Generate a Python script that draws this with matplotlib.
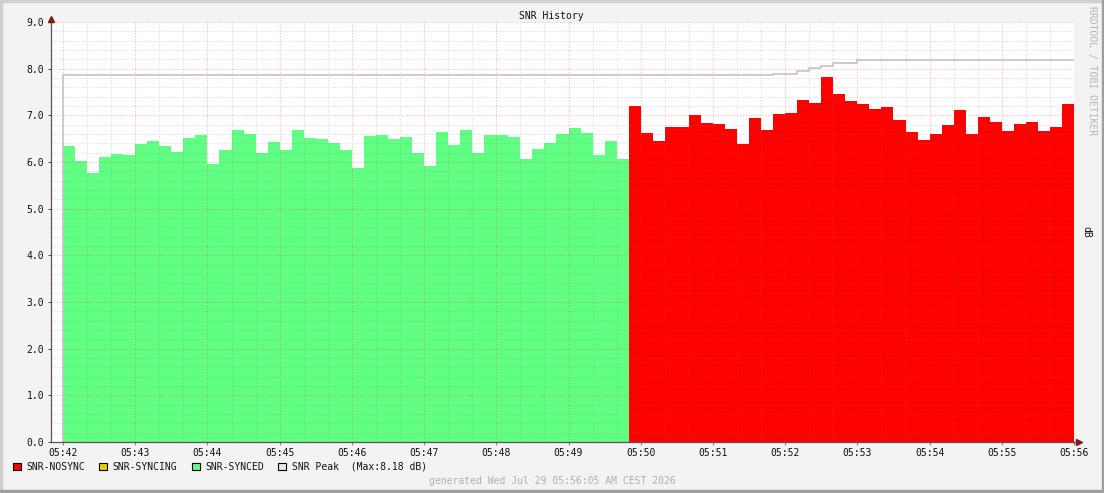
import numpy as np
import matplotlib
matplotlib.use('Agg')
from matplotlib import pyplot as plt
from matplotlib.patches import Rectangle

# SNR samples, one every 10 s starting 05:42:00
snr_synced = [6.35, 6.03, 5.76, 6.11, 6.18, 6.16, 6.39, 6.46, 6.35, 6.22,
              6.52, 6.58, 5.96, 6.26, 6.69, 6.61, 6.20, 6.43, 6.25, 6.69,
              6.52, 6.50, 6.41, 6.25, 5.88, 6.56, 6.58, 6.50, 6.54, 6.20,
              5.92, 6.65, 6.37, 6.69, 6.20, 6.58, 6.58, 6.54, 6.07, 6.28,
              6.41, 6.61, 6.73, 6.63, 6.16, 6.46, 6.07]
snr_nosync = [7.21, 6.62, 6.44, 6.74, 6.74, 7.00, 6.83, 6.81, 6.70, 6.38,
              6.94, 6.68, 7.02, 7.04, 7.32, 7.26, 7.83, 7.45, 7.30, 7.24,
              7.13, 7.17, 6.89, 6.64, 6.47, 6.59, 6.79, 7.11, 6.59, 6.96,
              6.85, 6.66, 6.81, 6.85, 6.66, 6.74, 7.24]
snr_peak = [7.86] * 59 + [7.89, 7.89, 7.95, 8.01, 8.05, 8.13, 8.13] + [8.18] * 18
tick_labels = ['05:42', '05:43', '05:44', '05:45', '05:46', '05:47', '05:48', '05:49',
               '05:50', '05:51', '05:52', '05:53', '05:54', '05:55', '05:56']

step = 10
t_synced = np.arange(len(snr_synced)) * step
t_nosync = (np.arange(len(snr_nosync)) + len(snr_synced)) * step
t_all = np.arange(len(snr_peak)) * step

W, H = 1104, 493
bg = '#f3f3f3'
mono = 'DejaVu Sans Mono'
fs = 7

fig = plt.figure(figsize=(W / 100, H / 100), dpi=100, facecolor=bg)

# bevelled frame
fig.patches.append(Rectangle((0, 1 - 2 / H), 1, 2 / H, transform=fig.transFigure, color='#cfcfcf', zorder=0))
fig.patches.append(Rectangle((0, 0), 2 / W, 1, transform=fig.transFigure, color='#cfcfcf', zorder=0))
fig.patches.append(Rectangle((0, 0), 1, 3 / H, transform=fig.transFigure, color='#9e9e9e', zorder=0))
fig.patches.append(Rectangle((1 - 2 / W, 0), 2 / W, 1, transform=fig.transFigure, color='#9e9e9e', zorder=0))

ax = fig.add_axes([51 / W, 51 / H, 1023 / W, 420 / H])
ax.set_facecolor('white')

ax.bar(t_synced, snr_synced, width=step, align='edge', color='#60ff84', linewidth=0, zorder=1)
ax.bar(t_nosync, snr_nosync, width=step, align='edge', color='#ff0000', linewidth=0, zorder=1)
ax.step(np.append(t_all, t_all[-1] + step), snr_peak + [snr_peak[-1]], where='post',
        color='#c4c4c4', lw=1.2, zorder=3)
ax.vlines(t_all[0], 0, snr_peak[0], color='#c4c4c4', lw=1.2, zorder=3)

ax.set_xlim(-step, t_all[-1] + step)
ax.set_ylim(0, 9)

# grid
minor_c = (0.5, 0.5, 0.5, 0.28)
major_c = (1.0, 0.2, 0.2, 0.35)
for x in np.arange(0, 841, 20):
    ax.axvline(x, color=major_c if x % 60 == 0 else minor_c, lw=0.8, ls=(0, (1, 1.5)), zorder=2)
for k in range(1, 46):
    ax.axhline(k * 0.2, color=major_c if k % 5 == 0 else minor_c, lw=0.8, ls=(0, (1, 1.5)), zorder=2)

ax.set_xticks(np.arange(0, 841, 60))
ax.set_xticklabels(tick_labels, fontfamily=mono, fontsize=fs)
ax.set_yticks(np.arange(0, 10, 1))
ax.set_yticklabels(['%.1f' % v for v in range(10)], fontfamily=mono, fontsize=fs)
ax.tick_params(axis='x', length=2, width=0.8, color='#e06060', pad=2.5, labelcolor='#111111')
ax.tick_params(axis='y', length=2, width=0.8, color='#555555', pad=3, labelcolor='#111111')

for s in ['top', 'right']:
    ax.spines[s].set_visible(False)
for s in ['left', 'bottom']:
    ax.spines[s].set_color('#555555')
    ax.spines[s].set_linewidth(0.9)
    ax.spines[s].set_zorder(4)

# axis arrows
ax.plot([0], [1 + 3 / 420], marker='^', ms=4.5, color='#801818', transform=ax.transAxes, clip_on=False, zorder=5)
ax.plot([1 + 5 / 1023], [0], marker='>', ms=4.5, color='#801818', transform=ax.transAxes, clip_on=False, zorder=5)
ax.plot([1, 1 + 4 / 1023], [0, 0], color='#555555', lw=0.9, transform=ax.transAxes, clip_on=False, zorder=4)

fig.text(551 / W, 1 - 16 / H, 'SNR History', ha='center', va='center', fontfamily=mono, fontsize=fs, color='#111111')
fig.text(1092 / W, 1 - 71 / H, 'RRDTOOL / TOBI OETIKER', rotation=270, ha='center', va='center',
         fontfamily=mono, fontsize=fs, color='#b4b4b4')
fig.text(1086 / W, 1 - 232 / H, 'dB', rotation=270, ha='center', va='center', fontfamily=mono, fontsize=fs, color='#111111')

# legend
legend = [(13, '#ff0000', 'SNR-NOSYNC'), (99, '#e0d000', 'SNR-SYNCING'),
          (192, '#60ff84', 'SNR-SYNCED'), (278, '#e8e8e8', 'SNR Peak  (Max:8.18 dB)')]
for lx, col, label in legend:
    fig.patches.append(Rectangle((lx / W, 1 - 470 / H), 7.5 / W, 7.5 / H, transform=fig.transFigure,
                                 facecolor=col, edgecolor='black', lw=0.8))
    fig.text((lx + 13.5) / W, 1 - 466.5 / H, label, ha='left', va='center', fontfamily=mono, fontsize=fs, color='#111111')

fig.text(552 / W, 1 - 481 / H, 'generated Wed Jul 29 05:56:05 AM CEST 2026', ha='center', va='center',
         fontfamily=mono, fontsize=fs, color='#b0b0b0')

fig.savefig('out.png', dpi=100, facecolor=bg)
